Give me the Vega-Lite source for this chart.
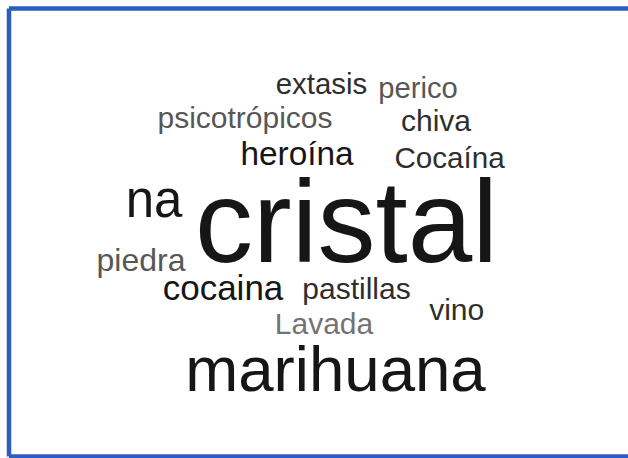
{
  "$schema": "https://vega.github.io/schema/vega-lite/v6.json",
  "width": 628,
  "height": 458,
  "autosize": {"type": "fit", "contains": "padding"},
  "padding": 0,
  "background": "white",
  "config": {"view": {"stroke": null}},
  "datasets": {
    "words": [
      {"word": "extasis", "col": 321.5, "row": 94, "freq": 14.7, "tone": "b"},
      {"word": "perico", "col": 418, "row": 97.5, "freq": 14.6, "tone": "c"},
      {"word": "psicotrópicos", "col": 245, "row": 127.5, "freq": 15, "tone": "c"},
      {"word": "chiva", "col": 436, "row": 131, "freq": 15, "tone": "b"},
      {"word": "heroína", "col": 297, "row": 165, "freq": 16.7, "tone": "a"},
      {"word": "Cocaína", "col": 449.5, "row": 168, "freq": 14.8, "tone": "b"},
      {"word": "na", "col": 154, "row": 217, "freq": 25.5, "tone": "a"},
      {"word": "cristal", "col": 346.5, "row": 262, "freq": 58, "tone": "a"},
      {"word": "piedra", "col": 141, "row": 270.5, "freq": 16, "tone": "c"},
      {"word": "cocaina", "col": 223, "row": 300, "freq": 17.5, "tone": "a"},
      {"word": "pastillas", "col": 356.5, "row": 298.5, "freq": 15, "tone": "b"},
      {"word": "vino", "col": 456.7, "row": 320, "freq": 15, "tone": "b"},
      {"word": "Lavada", "col": 324, "row": 334, "freq": 15, "tone": "d"},
      {"word": "marihuana", "col": 335.5, "row": 391, "freq": 31.8, "tone": "a"}
    ],
    "frame": [
      {"edge": "top", "x1": 9, "x2": 628, "y1": 8.5, "y2": 8.5},
      {"edge": "left", "x1": 9, "x2": 9, "y1": 8.5, "y2": 456.5},
      {"edge": "bottom", "x1": 9, "x2": 628, "y1": 456.5, "y2": 456.5}
    ]
  },
  "layer": [
    {
      "data": {"name": "frame"},
      "mark": {"type": "rule", "color": "#2b5cbf", "strokeWidth": 4.5, "clip": true},
      "encoding": {
        "x": {"field": "x1", "type": "quantitative", "scale": {"domain": [0, 628], "nice": false, "zero": false}, "axis": null},
        "x2": {"field": "x2"},
        "y": {"field": "y1", "type": "quantitative", "scale": {"domain": [0, 458], "nice": false, "zero": false, "reverse": true}, "axis": null},
        "y2": {"field": "y2"}
      }
    },
    {
      "data": {"name": "words"},
      "mark": {"type": "text", "font": "Liberation Sans", "align": "center", "baseline": "alphabetic"},
      "encoding": {
        "x": {"field": "col", "type": "quantitative", "axis": null},
        "y": {"field": "row", "type": "quantitative", "axis": null},
        "text": {"field": "word"},
        "size": {"field": "freq", "type": "quantitative", "scale": {"domain": [0, 100], "range": [0, 200], "zero": true}, "legend": null},
        "color": {"field": "tone", "type": "nominal", "scale": {"domain": ["a", "b", "c", "d"], "range": ["#161616", "#2e2e2e", "#575757", "#737373"]}, "legend": null}
      }
    }
  ]
}
